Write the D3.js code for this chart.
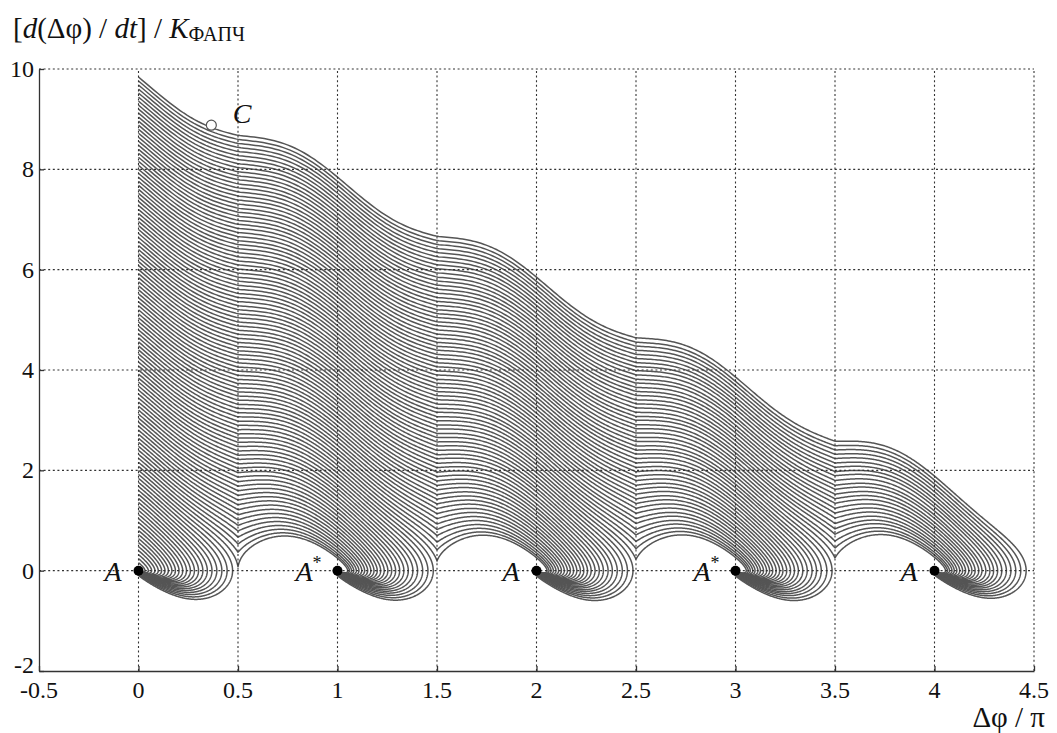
<!DOCTYPE html>
<html>
<head>
<meta charset="utf-8">
<script src="https://cdn.jsdelivr.net/npm/d3@7"></script>
<style>
  body { margin: 0; background: #fff; }
  svg { display: block; }
  text { font-family: "Liberation Serif", "Times New Roman", serif; fill: #111; }
</style>
</head>
<body>
<svg id="chart" width="1057" height="733"></svg>
<script>
// ---- axis ticks ----
const xTicks = [-0.5, 0, 0.5, 1, 1.5, 2, 2.5, 3, 3.5, 4, 4.5];
const yTicks = [-2, 0, 2, 4, 6, 8, 10];

// ---- initial frequency offsets at Δφ = 0, one trajectory per value ----
const startOffsets = [
  0.08, 0.16, 0.24, 0.32, 0.40, 0.48, 0.56, 0.64, 0.72, 0.80,
  0.88, 0.96, 1.04, 1.12, 1.20, 1.28, 1.36, 1.44, 1.52, 1.60,
  1.68, 1.76, 1.84, 1.92, 2.00, 2.08, 2.16, 2.24, 2.32, 2.40,
  2.48, 2.56, 2.64, 2.72, 2.80, 2.88, 2.96, 3.04, 3.12, 3.20,
  3.28, 3.36, 3.44, 3.52, 3.60, 3.68, 3.76, 3.84, 3.92, 4.00,
  4.08, 4.16, 4.24, 4.32, 4.40, 4.48, 4.56, 4.64, 4.72, 4.80,
  4.88, 4.96, 5.04, 5.12, 5.20, 5.28, 5.36, 5.44, 5.52, 5.60,
  5.68, 5.76, 5.84, 5.92, 6.00, 6.08, 6.16, 6.24, 6.32, 6.40,
  6.48, 6.56, 6.64, 6.72, 6.80, 6.88, 6.96, 7.04, 7.12, 7.20,
  7.28, 7.36, 7.44, 7.52, 7.60, 7.68, 7.76, 7.84, 7.92, 8.00,
  8.08, 8.16, 8.24, 8.32, 8.40, 8.48, 8.56, 8.64, 8.72, 8.80,
  8.88, 8.96, 9.04, 9.12, 9.20, 9.28, 9.36, 9.44, 9.52, 9.60,
  9.68, 9.76, 9.84
];

// ---- stable equilibria and their labels ----
const equilibria = [0, 1, 2, 3, 4];
const eqNames = ["A", "A", "A", "A", "A"];
const eqStars = [false, true, false, true, false];

// ---- marked point C ----
const pointC = { x: 0.366, y: 8.88, name: "C", lx: 0.52, ly: 9.13 };

// ---- loop model (normalised) ----
const damping = 2.0;         // mean damping
const dampingRipple = 1.35;  // phase-dependent part of the damping
const ripplePhase = 0.04;    // phase of the damping ripple, in units of π
const detectorGain = 4.0;    // slope of the sawtooth phase characteristic

const svg = d3.select("#chart");
const xS = d3.scaleLinear().domain([-0.5, 4.5]).range([39, 1034]);
const yS = d3.scaleLinear().domain([-2, 10]).range([671, 69]);

const TAU = 2 * Math.PI;
const saw = u => u - Math.round(u);
const accel = (u, v) =>
  -(damping + dampingRipple * Math.cos(TAU * (u - ripplePhase))) * v - detectorGain * saw(u);

// RK4 integration of one phase trajectory starting at (0, v0)
function trajectory(v0) {
  let u = 0, v = v0;
  const dt = 0.002;
  const pts = [[u, v]];
  let lx = xS(u), ly = yS(v);
  for (let i = 0; i < 20000; i++) {
    const k1u = v, k1v = accel(u, v);
    const k2u = v + 0.5 * dt * k1v, k2v = accel(u + 0.5 * dt * k1u, v + 0.5 * dt * k1v);
    const k3u = v + 0.5 * dt * k2v, k3v = accel(u + 0.5 * dt * k2u, v + 0.5 * dt * k2v);
    const k4u = v + dt * k3v, k4v = accel(u + dt * k3u, v + dt * k3v);
    u += dt / 6 * (k1u + 2 * k2u + 2 * k3u + k4u);
    v += dt / 6 * (k1v + 2 * k2v + 2 * k3v + k4v);
    const px = xS(u), py = yS(v);
    if (Math.hypot(px - lx, py - ly) > 0.6) { pts.push([u, v]); lx = px; ly = py; }
    if (Math.abs(v) < 1e-3 && Math.abs(saw(u)) < 1e-3) break;
  }
  pts.push([u, v]);
  return pts;
}

const line = d3.line().x(d => xS(d[0])).y(d => yS(d[1]));

// trajectories
svg.append("g")
  .attr("fill", "none")
  .attr("stroke", "#555")
  .attr("stroke-width", 1.5)
  .selectAll("path")
  .data(startOffsets.map(trajectory))
  .join("path")
  .attr("d", line);

// dotted grid
const grid = svg.append("g")
  .attr("stroke", "#333")
  .attr("stroke-width", 1.1)
  .attr("stroke-dasharray", "2,2.6");
grid.selectAll("line.v").data(xTicks.slice(1)).join("line")
  .attr("class", "v")
  .attr("x1", d => xS(d)).attr("x2", d => xS(d))
  .attr("y1", yS(-2)).attr("y2", yS(10));
grid.selectAll("line.h").data(yTicks.slice(1)).join("line")
  .attr("class", "h")
  .attr("x1", xS(-0.5)).attr("x2", xS(4.5))
  .attr("y1", d => yS(d)).attr("y2", d => yS(d));

// axes with inward ticks
const xAxis = d3.axisBottom(xS).tickValues(xTicks).tickSizeInner(-5).tickSizeOuter(0).tickFormat("");
const yAxis = d3.axisLeft(yS).tickValues(yTicks).tickSizeInner(-5).tickSizeOuter(0).tickFormat("");
svg.append("g").attr("transform", `translate(0,${yS(-2)})`).call(xAxis)
  .call(g => g.selectAll("path,line").attr("stroke", "#333").attr("stroke-width", 1.3));
svg.append("g").attr("transform", `translate(${xS(-0.5)},0)`).call(yAxis)
  .call(g => g.selectAll("path,line").attr("stroke", "#333").attr("stroke-width", 1.3));

// tick labels
svg.append("g").selectAll("text").data(xTicks).join("text")
  .attr("x", d => xS(d)).attr("y", yS(-2) + 27)
  .attr("text-anchor", "middle").attr("font-size", 24)
  .text(d => String(d));
svg.append("g").selectAll("text").data(yTicks).join("text")
  .attr("x", xS(-0.5) - 5).attr("y", d => yS(d) - (d === -2 ? 6 : 0)).attr("dy", "0.34em")
  .attr("text-anchor", "end").attr("font-size", 24)
  .text(d => String(d));

// axis titles
const yt = svg.append("text").attr("x", 13).attr("y", 38).attr("font-size", 29);
yt.append("tspan").text("[");
yt.append("tspan").attr("font-style", "italic").text("d");
yt.append("tspan").text("(Δφ) / ");
yt.append("tspan").attr("font-style", "italic").text("dt");
yt.append("tspan").text("] / ");
yt.append("tspan").attr("font-style", "italic").text("K");
yt.append("tspan").attr("font-size", 20).attr("dy", 3).text("ФАПЧ");

svg.append("text").attr("x", 1045).attr("y", 727)
  .attr("text-anchor", "end").attr("font-size", 29).text("Δφ / π");

// equilibria
svg.append("g").selectAll("circle").data(equilibria).join("circle")
  .attr("cx", d => xS(d)).attr("cy", yS(0)).attr("r", 5).attr("fill", "#000");

const lab = svg.append("g").selectAll("text").data(equilibria).join("text")
  .attr("x", (d, i) => xS(d) - (eqStars[i] ? 16 : 17))
  .attr("y", yS(0) + 10)
  .attr("text-anchor", "end")
  .attr("font-size", 28)
  .attr("font-style", "italic");
lab.append("tspan").text((d, i) => eqNames[i]);
lab.filter((d, i) => eqStars[i]).append("tspan")
  .attr("font-size", 18).attr("font-style", "normal").attr("dy", -12).text("*");

// point C
svg.append("circle")
  .attr("cx", xS(pointC.x)).attr("cy", yS(pointC.y)).attr("r", 5)
  .attr("fill", "#fff").attr("stroke", "#555").attr("stroke-width", 1.2);
svg.append("text")
  .attr("x", xS(pointC.lx)).attr("y", yS(pointC.ly) + 10)
  .attr("text-anchor", "middle").attr("font-size", 28).attr("font-style", "italic")
  .text(pointC.name);
</script>
</body>
</html>
